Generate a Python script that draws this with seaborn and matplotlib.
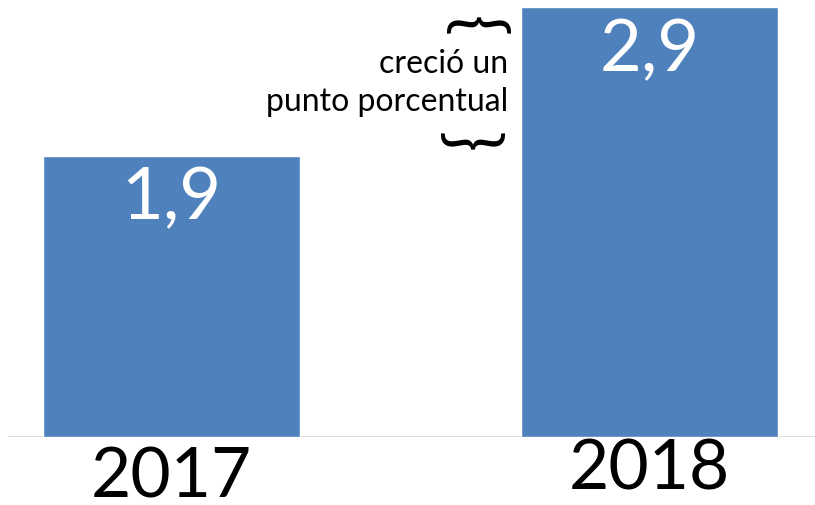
import matplotlib
matplotlib.use("Agg")
import matplotlib.pyplot as plt
import seaborn as sns
import pandas as pd

years = ["2017", "2018"]
values = [1.9, 2.9]
value_labels = ["1,9", "2,9"]
note = "creció un\npunto porcentual"

sns.set_theme(style="white")
plt.rcParams['font.family'] = ['Lato', 'DejaVu Sans']

df = pd.DataFrame({"year": years, "value": values})

W, H = 815, 505
fig = plt.figure(figsize=(W / 100, H / 100), dpi=100)
ax = fig.add_axes([8 / W, 68 / H, 807 / W, 437 / H])
sns.barplot(data=df, x="year", y="value", color="#4F81BD", saturation=1,
            width=0.538, ax=ax)
ax.set_xlim(-0.342, 1.346)
ax.set_ylim(0, 2.95)
for s in ax.spines.values():
    s.set_visible(False)
ax.axhline(0, color="#D9D9D9", lw=2, zorder=0)
ax.set_xticks([])
ax.set_yticks([])
ax.set_xlabel("")
ax.set_ylabel("")

# pixel offsets below the baseline for year labels (px)
year_drop = [9, 1]
for i, (yr, v, lab) in enumerate(zip(years, values, value_labels)):
    ax.annotate(lab, xy=(i, v), xytext=(0, -11 * 0.72), textcoords="offset points",
                ha="center", va="top", color="white", fontsize=52)
    ax.annotate(yr, xy=(i, 0), xytext=(0, -year_drop[i] * 0.72), textcoords="offset points",
                ha="center", va="top", color="black", fontsize=50, annotation_clip=False)

def fx(px):
    return px / W

def fy(py):
    return 1 - py / H

fig.text(fx(508), fy(83), note, ha="right", va="center", fontsize=23,
         linespacing=1.3, color="black", transform=fig.transFigure)
fig.text(fx(474), fy(26), "{", rotation=-90, ha="center", va="center", fontsize=50,
         color="black", transform=fig.transFigure)
fig.text(fx(474), fy(139), "{", rotation=90, ha="center", va="center", fontsize=50,
         color="black", transform=fig.transFigure)

fig.savefig("out.png", dpi=100)
